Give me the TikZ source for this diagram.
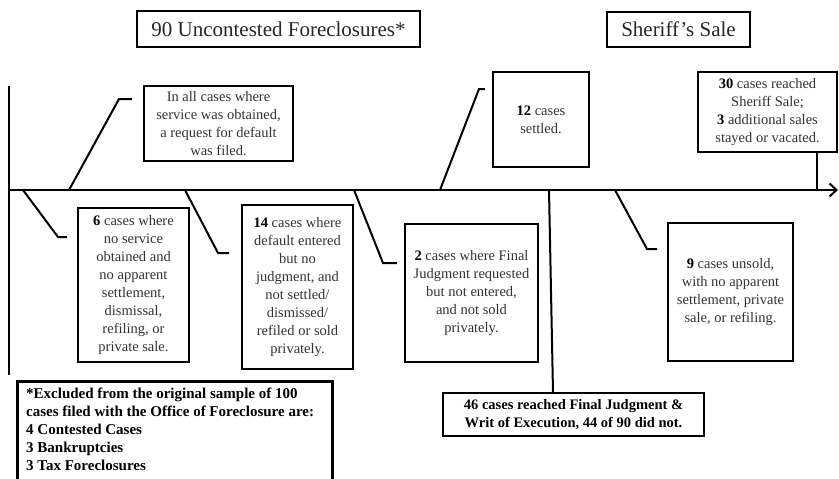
\documentclass[tikz,border=0pt]{standalone}
\usepackage{fontspec}
\setmainfont{Liberation Serif}
\usetikzlibrary{arrows.meta}
\newcommand{\bodyfnt}{\fontsize{14.5}{17.9}\selectfont}
\newcommand{\footfnt}{\fontsize{15}{18}\selectfont}
\newcommand{\titlefnt}{\fontsize{21}{24}\selectfont}
\tikzset{
  box/.style={draw=black, line width=2.5pt, align=center, inner sep=0pt, font=\bodyfnt, text=black!80},
  titlebox/.style={draw=black, line width=2.5pt, align=center, inner sep=0pt, font=\titlefnt, text=black!85},
  conn/.style={draw=black, line width=2pt},
}
\begin{document}
\begin{tikzpicture}[x=1pt,y=-1pt]
\useasboundingbox (0,0) rectangle (839,479);
\clip (0,0) rectangle (839,479);
% titles
\node[titlebox, minimum width=283, minimum height=36] (t1) at (278.5,29) {90 Uncontested Foreclosures*};
\node[titlebox, minimum width=143, minimum height=35] (t2) at (678.5,29.5) {Sheriff’s Sale};
% timeline
\coordinate (tl0) at (9,190);
\coordinate (tlend) at (838,190);
\coordinate (vtop) at (9,86);
\coordinate (vbot) at (9,375);
\draw[conn] (vtop) -- (vbot);
\draw[conn, -{Straight Barb[length=7pt,width=13pt,line width=2pt]}] (tl0) -- (tlend);
% upper boxes
\node[box, minimum width=149, minimum height=75] (ball) at (218.5,123.5) {In all cases where\\service was obtained,\\a request for default\\was filed.};
\node[box, minimum width=96, minimum height=95] (b12) at (541,119.5) {\textbf{\color{black}12} cases\\settled.};
\node[box, minimum width=139, minimum height=80] (b30) at (767.5,112) {\textbf{\color{black}30} cases reached\\Sheriff Sale;\\\textbf{\color{black}3} additional sales\\stayed or vacated.};
% lower boxes
\node[box, minimum width=111, minimum height=154] (b6) at (133.5,285) {\textbf{\color{black}6} cases where\\no service\\obtained and\\no apparent\\settlement,\\dismissal,\\refiling, or\\private sale.};
\node[box, minimum width=111, minimum height=164] (b14) at (297.5,287) {\textbf{\color{black}14} cases where\\default entered\\but no\\judgment, and\\not settled/\\dismissed/\\refiled or sold\\privately.};
\node[box, minimum width=133, minimum height=138] (b2) at (471.5,293) {\textbf{\color{black}2} cases where Final\\Judgment requested\\but not entered,\\and not sold\\privately.};
\node[box, minimum width=125, minimum height=138] (b9) at (730.5,292) {\textbf{\color{black}9} cases unsold,\\with no apparent\\settlement, private\\sale, or refiling.};
\node[box, minimum width=261, minimum height=43, text=black, font=\bodyfnt\bfseries] (b46) at (573.5,414.5) {46 cases reached Final Judgment \&\\Writ of Execution, 44 of 90 did not.};
% footnote
\node[box, anchor=north west, minimum width=315, minimum height=130] (foot) at (16,380) {};
\node[anchor=north west, inner sep=0pt, align=left, font=\footfnt\bfseries, text=black] (foottext) at (26,388) {*Excluded from the original sample of 100\\cases filed with the Office of Foreclosure are:\\4 Contested Cases\\3 Bankruptcies\\3 Tax Foreclosures};
% connectors
\coordinate (call0) at (69,190); \coordinate (call1) at (119,99); \coordinate (call2) at (132,99);
\draw[conn] (call0) -- (call1) -- (call2);
\coordinate (c120) at (440,190); \coordinate (c121) at (479,89); \coordinate (c122) at (485,89);
\draw[conn] (c120) -- (c121) -- (c122);
\coordinate (c30) at (817,190);
\draw[conn] (b30.south -| c30) -- (c30);
\coordinate (c60) at (23,190); \coordinate (c61) at (58,237); \coordinate (c62) at (67,237);
\draw[conn] (c60) -- (c61) -- (c62);
\coordinate (c140) at (185,190); \coordinate (c141) at (218,253); \coordinate (c142) at (229,253);
\draw[conn] (c140) -- (c141) -- (c142);
\coordinate (c20) at (354,190); \coordinate (c21) at (383,263); \coordinate (c22) at (397,263);
\draw[conn] (c20) -- (c21) -- (c22);
\coordinate (c460) at (549,190); \coordinate (c461) at (553,392);
\draw[conn] (c460) -- (c461);
\coordinate (c90) at (615,190); \coordinate (c91) at (647,249); \coordinate (c92) at (657,249);
\draw[conn] (c90) -- (c91) -- (c92);
\end{tikzpicture}
\end{document}
